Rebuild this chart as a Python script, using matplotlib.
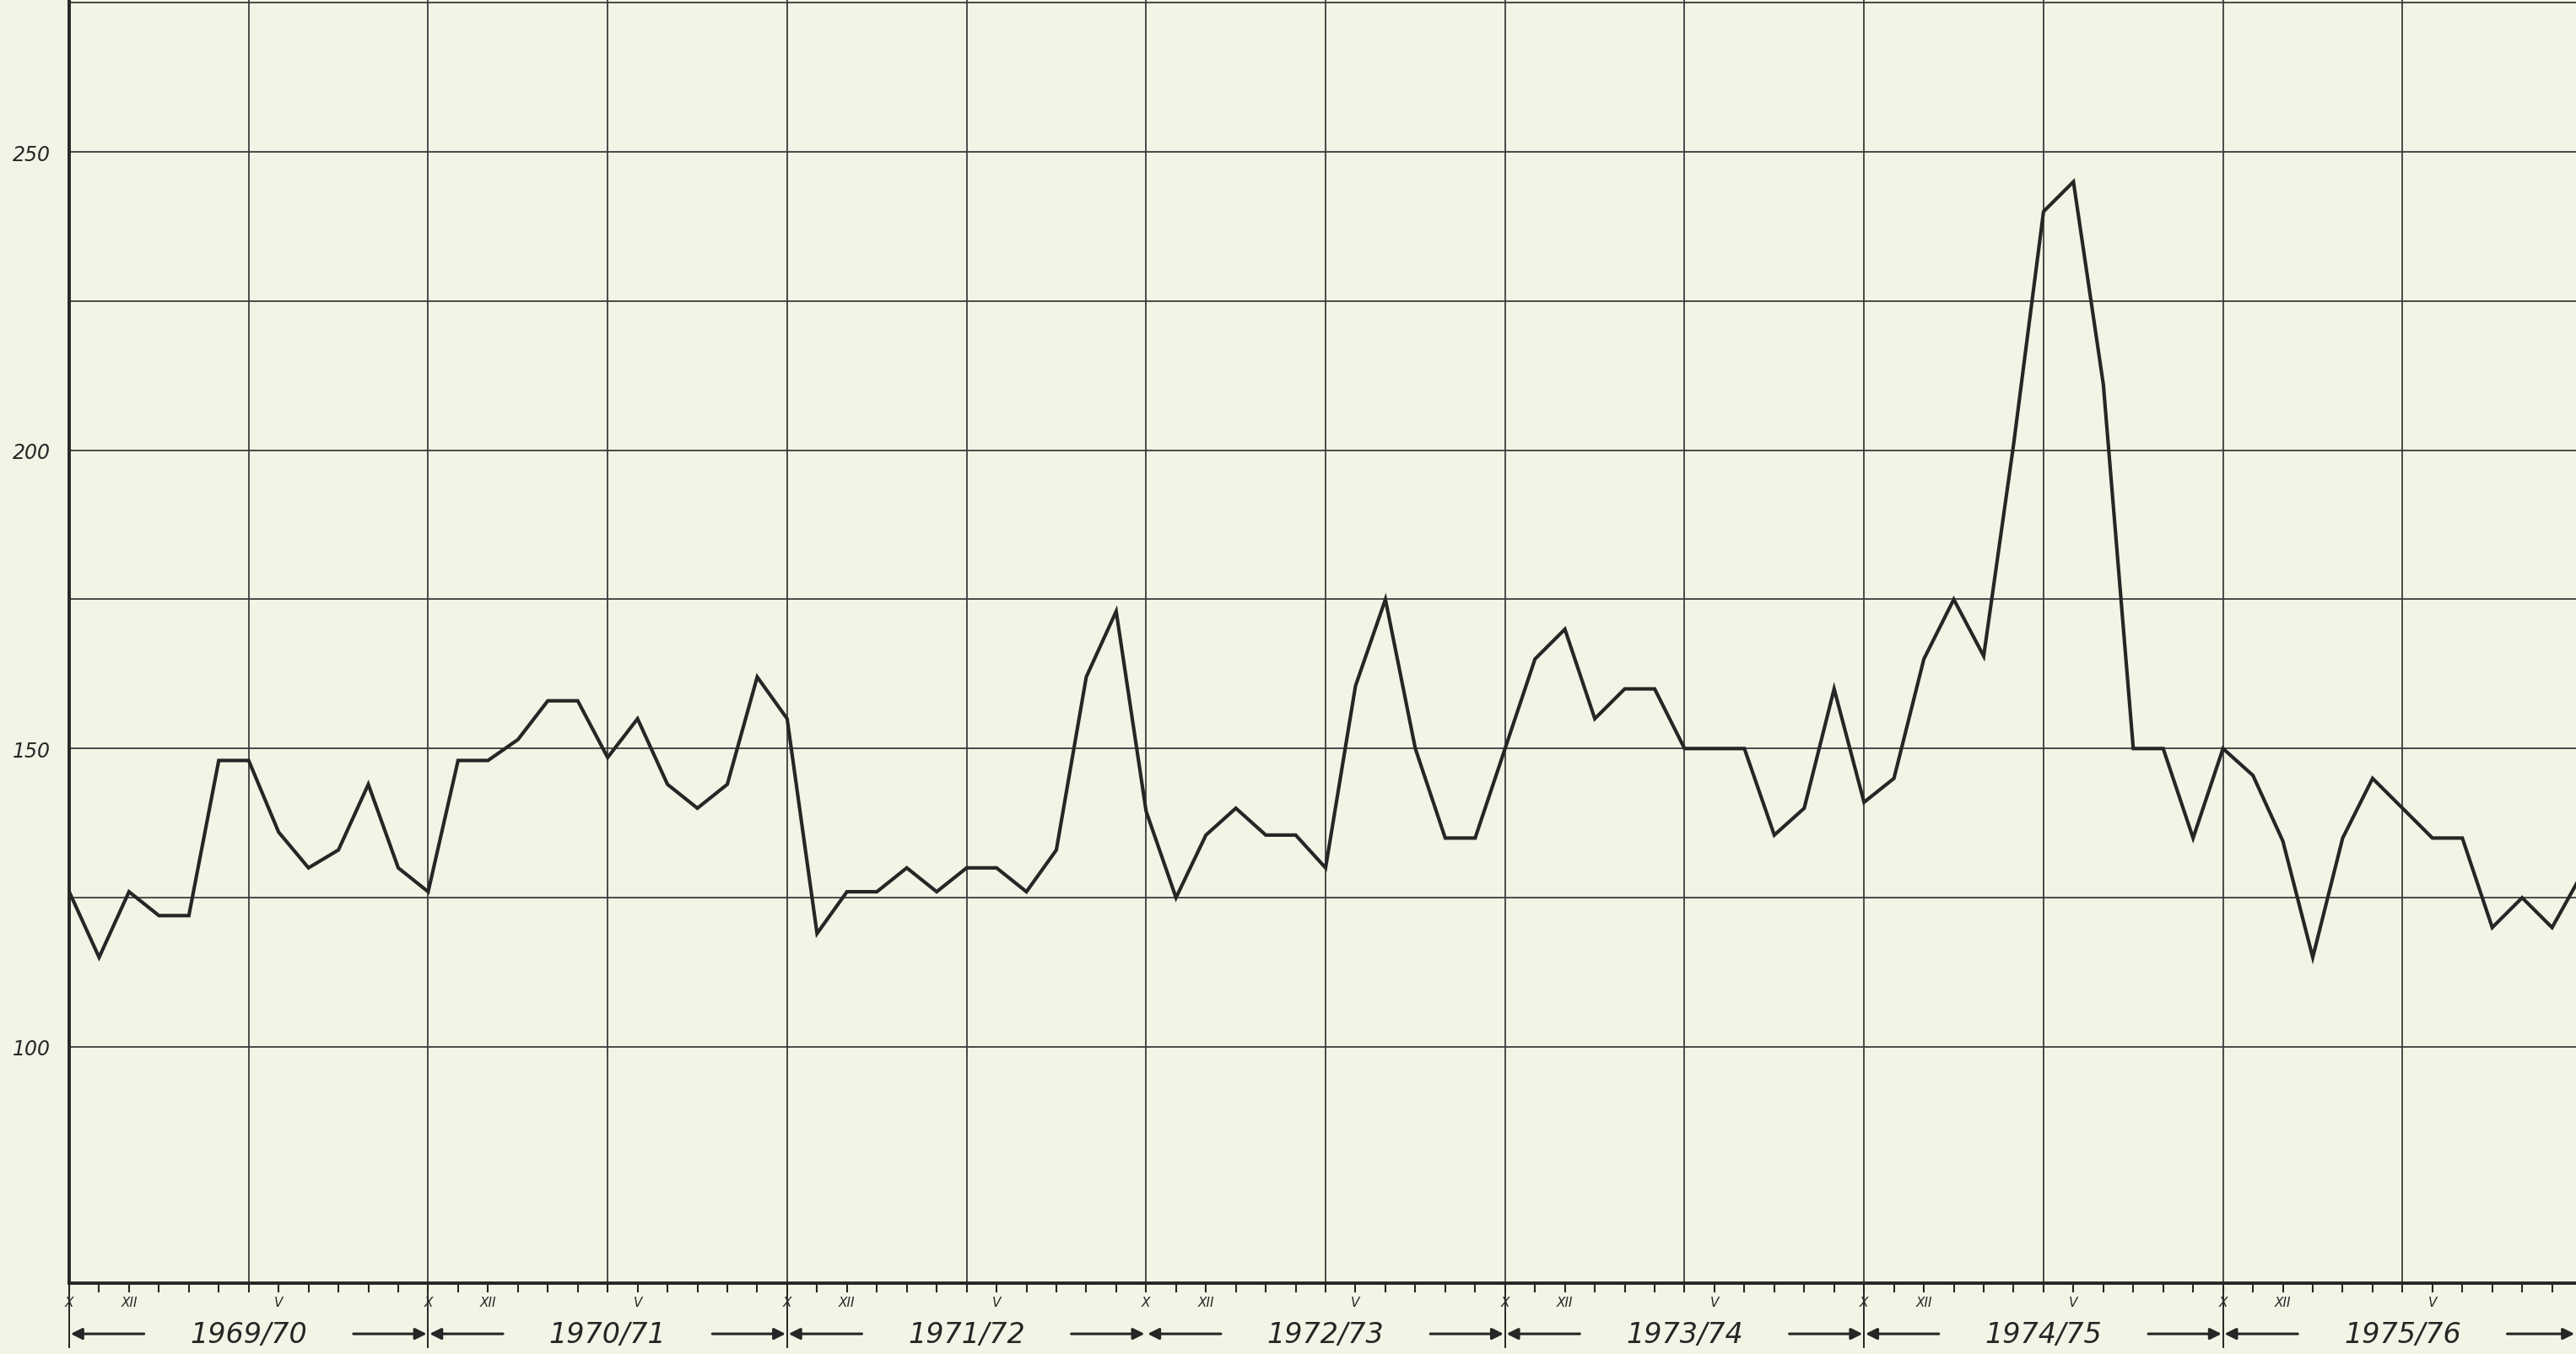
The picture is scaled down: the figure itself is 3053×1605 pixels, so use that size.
import numpy as np
import matplotlib
matplotlib.use("Agg")
import matplotlib.pyplot as plt

# monthly values, October 1969 onwards
values = [126, 115, 126, 122, 122, 148, 148, 136, 130, 133, 144, 130,
          126, 148, 148, 151.5, 158, 158, 148.5, 155, 144, 140, 144, 162,
          155, 119, 126, 126, 130, 126, 130, 130, 126, 133, 162, 173,
          139.5, 125, 135.5, 140, 135.5, 135.5, 130, 160.5, 175, 150, 135, 135,
          150, 165, 170, 155, 160, 160, 150, 150, 150, 135.5, 140, 160,
          141, 145, 165, 175, 165.5, 201, 240, 245, 211, 150, 150, 135,
          150, 145.5, 134.5, 115, 135, 145, 140, 135, 135, 120, 125, 120,
          129]
months = np.arange(len(values))

seasons = ["1969/70", "1970/71", "1971/72", "1972/73", "1973/74", "1974/75", "1975/76"]
month_marks = {0: "X", 2: "XII", 7: "V"}
y_labels = [100, 150, 200, 250]

paper = "#f2f4e5"
ink = "#262626"

fig = plt.figure(figsize=(30.53, 16.06), dpi=100, facecolor=paper)
ax = fig.add_axes([82 / 3053, 84 / 1606, 1 - 82 / 3053, 1 - 84 / 1606])
ax.set_facecolor(paper)

ax.set_xlim(0, 83.8)
ax.set_ylim(60.4, 275.6)

# grid: every 25 units, every 6 months
for yv in range(100, 276, 25):
    ax.axhline(yv, color="#3c3c3c", lw=1.3, zorder=1)
for xv in range(6, 84, 6):
    ax.axvline(xv, color="#3c3c3c", lw=1.3, zorder=1)

ax.plot(months, values, color=ink, lw=3.0, solid_joinstyle="miter", zorder=3)

for side in ["top", "right"]:
    ax.spines[side].set_visible(False)
for side in ["left", "bottom"]:
    ax.spines[side].set_linewidth(2.8)
    ax.spines[side].set_color(ink)

# y labels
ax.set_yticks(y_labels)
ax.set_yticklabels([str(v) for v in y_labels], fontsize=17, style="italic", color=ink)
ax.tick_params(axis="y", length=0, pad=16)

# monthly ticks with roman month labels
ticks = list(range(0, 84))
labels = [month_marks.get(m % 12, "") for m in ticks]
ax.set_xticks(ticks)
ax.set_xticklabels(labels, fontsize=11, style="italic", color=ink)
ax.tick_params(axis="x", length=8, width=1.5, direction="out", pad=3, colors=ink)

trans = ax.get_xaxis_transform()

# season boundaries run down through the label row
for b in [0, 12, 24, 48, 60, 72]:
    ax.plot([b, b], [0, -0.05], transform=trans, color=ink, lw=1.4, clip_on=False)

y_row = -0.0395
for i, name in enumerate(seasons):
    start = 12 * i
    end = start + 12
    ax.text(start + 6, y_row, name, transform=trans, ha="center", va="center",
            fontsize=24, style="italic", color=ink)
    arrow = dict(arrowstyle="-|>", color=ink, lw=2.2, mutation_scale=20,
                 shrinkA=0, shrinkB=0)
    ax.annotate("", xy=(start + 0.05, y_row), xytext=(start + 2.5, y_row),
                xycoords=trans, textcoords=trans, arrowprops=arrow,
                annotation_clip=False)
    head = min(end - 0.05, 83.75)
    ax.annotate("", xy=(head, y_row), xytext=(end - 2.5, y_row),
                xycoords=trans, textcoords=trans, arrowprops=arrow,
                annotation_clip=False)

fig.savefig("out.png", dpi=100, facecolor=paper)
